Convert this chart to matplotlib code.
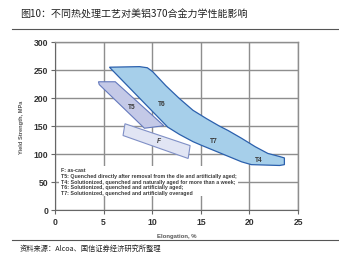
import matplotlib
matplotlib.use("Agg")
import matplotlib.pyplot as plt
from matplotlib.patches import Polygon
from matplotlib.lines import Line2D

# data (elongation %, yield strength MPa)
t6_x = [5.6, 8.7, 9.5, 10.05, 11.4, 12.8, 14.2, 15.6, 16.9, 17.8, 19.2, 20.6, 21.9, 23.0, 23.6,
        23.6, 23.1, 20.2, 19.2, 17.8, 16.4, 15.0, 14.2, 12.8, 11.6]
t6_y = [255, 256, 254, 247, 222, 199, 178, 163, 150, 142, 128, 113, 101, 96, 93,
        81, 79.5, 81, 86, 96, 106, 116, 122, 135, 148]
t5_x = [4.47, 6.2, 11.2, 9.2, 4.55]
t5_y = [229, 229, 150.5, 146, 224]
f_x = [7.2, 13.9, 13.7, 7.0]
f_y = [154, 115, 92, 133]

labels = ["T5", "T6", "F", "T7", "T4"]
label_x = [7.9, 11.0, 10.7, 16.3, 21.0]
label_y = [184, 191, 124, 124, 91]

notes = ["F: as-cast",
         "T5: Quenched directly after removal from the die and artificially aged;",
         "T4: Solutionized, quenched and naturally aged for more than a week;",
         "T6: Solutionized, quenched and artificially aged;",
         "T7: Solutionized, quenched and artificially overaged"]

xticks = [0, 5, 10, 15, 20, 25]
yticks = [0, 50, 100, 150, 200, 250, 300]

title = "图10：不同热处理工艺对美铝370合金力学性能影响"
source = "资料来源：Alcoa、国信证券经济研究所整理"

W, H = 339, 255
fig = plt.figure(figsize=(W / 100, H / 100), dpi=100)
ax = fig.add_axes([55 / W, 1 - 211 / H, 243 / W, 168 / H])

ax.set_xlim(0, 25)
ax.set_ylim(0, 300)
ax.set_xticks(xticks)
ax.set_yticks(yticks)
ax.grid(True, color="#8e8e8e", linewidth=1.0)
ax.set_axisbelow(True)
for s in ["top", "right"]:
    ax.spines[s].set_color("#8e8e8e")
    ax.spines[s].set_linewidth(1.0)
for s in ["left", "bottom"]:
    ax.spines[s].set_color("#666666")
    ax.spines[s].set_linewidth(0.8)
ax.tick_params(direction="out", length=3, width=0.8, color="#666666", pad=2,
               labelsize=6.2, labelcolor="#333333")
for lab in ax.get_xticklabels() + ax.get_yticklabels():
    lab.set_fontweight("bold")
    lab.set_fontfamily("Liberation Sans")

ax.add_patch(Polygon(list(zip(t6_x, t6_y)), closed=True, fc="#a6cfea", ec="#2b60ad", lw=0.9, zorder=3))
ax.add_patch(Polygon(list(zip(t5_x, t5_y)), closed=True, fc="#c4c9e7", ec="#6479bd", lw=0.8, zorder=4))
ax.add_patch(Polygon(list(zip(f_x, f_y)), closed=True, fc="#e1e5f4", ec="#7f8fc6", lw=0.8, zorder=4))

for t, x, y in zip(labels, label_x, label_y):
    ax.text(x, y, t, fontsize=4.8, fontweight="bold", color="#3a3a3a", ha="center", va="center",
            family="Liberation Sans", style="italic" if t == "F" else "normal", zorder=5)

ax.text(0.6, 76, "\n".join(notes), fontsize=3.8, fontweight="bold", color="#3a3a3a",
        family="Liberation Sans", ha="left", va="top", linespacing=1.15, zorder=5,
        bbox=dict(fc="white", ec="none", pad=1))

ax.set_xlabel("Elongation, %", fontsize=4.3, fontweight="bold", color="#555555",
              family="Liberation Sans", labelpad=5)
ax.set_ylabel("Yield Strength, MPa", fontsize=4.1, fontweight="bold", color="#555555",
              family="Liberation Sans", labelpad=7)

fig.text(20 / W, 1 - 15 / H, title, fontsize=7.2, color="#222222",
         family=["Noto Sans CJK SC", "DejaVu Sans"], ha="left", va="center")
fig.text(20 / W, 1 - 249 / H, source, fontsize=5.2, color="#222222",
         family=["Noto Sans CJK SC", "DejaVu Sans"], ha="left", va="center")
fig.add_artist(Line2D([12 / W, 1], [1 - 30 / H, 1 - 30 / H], color="#555555", lw=0.8))
fig.add_artist(Line2D([12 / W, 1], [1 - 241 / H, 1 - 241 / H], color="#555555", lw=0.8))

fig.savefig("out.png", dpi=100)
